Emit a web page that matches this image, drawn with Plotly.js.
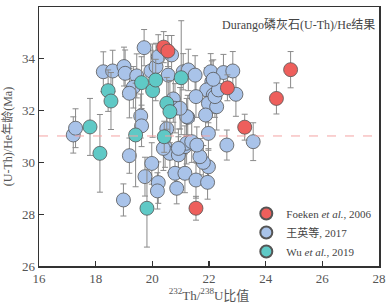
<!DOCTYPE html>
<html><head><meta charset="utf-8">
<script src="https://cdn.plot.ly/plotly-3.0.1.min.js"></script>
<style>html,body{margin:0;padding:0;background:#fff}#c{width:387px;height:304px}</style>
</head><body><div id="c"></div>
<script>
// Foeken et al., 2006
const foekenX = [20.40, 20.55, 22.65, 24.38, 24.88, 23.26, 21.54];
const foekenY = [34.45, 34.30, 32.88, 32.47, 33.58, 31.36, 28.23];
const foekenE = [0.60, 0.60, 0.50, 0.60, 0.70, 0.50, 0.46];

// 王英等, 2017
const wangX = [17.21, 17.29, 18.27, 18.60, 19.00, 19.04, 19.45, 19.33, 19.19, 19.71,
               19.95, 20.13, 20.21, 20.68, 20.56, 21.09, 21.27, 21.51, 22.06, 22.10,
               21.92, 22.15, 21.54, 21.98, 22.27, 21.88, 21.25, 20.74, 20.80, 19.59,
               19.62, 22.51, 22.84, 22.21, 22.95, 22.33, 22.15, 21.98, 19.19, 19.98,
               19.74, 20.21, 20.18, 18.98, 20.51, 20.45, 20.62, 20.92, 21.15, 21.21,
               20.98, 20.80, 21.15, 21.54, 21.95, 20.86, 21.98, 21.80, 21.68, 21.21,
               20.92, 21.39, 21.57, 20.39, 22.63, 23.56];
const wangY = [31.06, 31.32, 33.50, 33.53, 33.70, 33.44, 33.34, 32.90, 32.67, 34.43,
               33.53, 33.70, 34.08, 34.15, 33.37, 33.50, 33.57, 33.37, 33.50, 33.12,
               32.80, 32.60, 32.54, 32.28, 32.15, 31.83, 31.74, 32.45, 32.09, 31.79,
               31.41, 33.47, 33.53, 32.54, 32.63, 32.80, 33.21, 31.12, 30.26, 29.96,
               29.45, 29.22, 28.90, 28.55, 31.30, 30.61, 30.35, 30.29, 30.61, 31.77,
               32.09, 29.58, 29.58, 29.32, 29.23, 29.00, 29.83, 30.00, 30.22, 30.74,
               30.54, 30.80, 30.67, 30.54, 30.67, 30.80];
const wangE = [0.70, 0.75, 0.77, 0.80, 0.75, 0.90, 0.85, 0.80, 0.95, 0.70,
               0.80, 0.90, 0.85, 0.75, 0.90, 0.70, 0.80, 0.75, 0.70, 0.80,
               0.85, 0.70, 0.80, 0.75, 0.90, 0.80, 0.85, 0.90, 0.95, 0.85,
               0.80, 0.70, 0.75, 0.80, 0.85, 0.70, 0.75, 0.65, 0.68, 0.80,
               0.75, 0.80, 0.70, 0.62, 0.85, 0.80, 0.75, 0.70, 0.80, 0.70,
               0.80, 0.70, 0.75, 0.70, 0.65, 0.60, 0.70, 0.65, 0.70, 0.80,
               0.75, 0.80, 0.70, 0.85, 0.58, 0.73];

// Wu et al., 2019
const wuX = [17.80, 18.15, 18.44, 18.54, 19.41, 19.62, 19.81, 20.01, 20.12, 20.42, 20.51, 20.62, 21.02];
const wuY = [31.37, 30.35, 32.77, 32.37, 31.06, 33.08, 28.23, 32.77, 33.18, 30.99, 32.28, 31.96, 33.27];
const wuE = [1.10, 1.50, 0.80, 1.10, 2.00, 1.00, 1.50, 1.80, 0.80, 0.60, 1.00, 1.20, 2.20];

const refAge = 31.02;
const xTicks = [16, 18, 20, 22, 24, 26, 28];
const yTicks = [26, 28, 30, 32, 34, 36];

const serif = "Liberation Serif, Noto Sans CJK SC, serif";
const errStyle = {type: 'data', visible: true, color: '#8a8a8a', thickness: 1, width: 3};
const lineStyle = {color: '#555', width: 0.8};

function trace(x, y, e, name, color, rank) {
  return {
    type: 'scatter', mode: 'markers', x: x, y: y, name: name, legendrank: rank,
    error_y: Object.assign({array: e}, errStyle),
    marker: {size: 14, color: color, line: lineStyle, opacity: 1}
  };
}

const data = [
  trace(wangX, wangY, wangE, '王英等, 2017', '#a9c3e9', 2),
  trace(wuX, wuY, wuE, 'Wu <i>et al.</i>, 2019', '#5fc9c6', 3),
  trace(foekenX, foekenY, foekenE, 'Foeken <i>et al.</i>, 2006', '#ee5f5c', 1)
];

const axisCommon = {
  showline: true, linecolor: '#333', linewidth: 1.5, mirror: true,
  ticks: 'inside', ticklen: 5, tickwidth: 1.2, tickcolor: '#333',
  showgrid: false, zeroline: false, automargin: false,
  tickfont: {family: serif, size: 13, color: '#555'}
};

const layout = {
  width: 387, height: 304,
  margin: {l: 39, r: 8, t: 7, b: 38, autoexpand: false},
  paper_bgcolor: '#fff', plot_bgcolor: '#fff',
  showlegend: true,
  legend: {x: 0.995, y: 0.0, xanchor: 'right', yanchor: 'bottom',
           font: {family: serif, size: 11, color: '#444'},
           bgcolor: 'rgba(0,0,0,0)', itemsizing: 'constant', tracegroupgap: 0},
  xaxis: Object.assign({}, axisCommon, {
    range: [16, 28], tickvals: xTicks,
    title: {text: '<sup>232</sup>Th/<sup>238</sup>U比值', font: {family: serif, size: 13, color: '#555'}, standoff: 3}
  }),
  yaxis: Object.assign({}, axisCommon, {
    range: [26, 36], tickvals: yTicks,
    title: {text: '(U-Th)/He年龄(Ma)', font: {family: serif, size: 12, color: '#555'}, standoff: 6}
  }),
  shapes: [{type: 'line', xref: 'paper', x0: 0, x1: 1, yref: 'y', y0: refAge, y1: refAge,
            line: {color: '#f4a3a3', width: 1, dash: 'dash'}}],
  annotations: [{xref: 'paper', yref: 'paper', x: 0.995, y: 0.97, xanchor: 'right', yanchor: 'top',
                 text: 'Durango磷灰石(U-Th)/He结果', showarrow: false,
                 font: {family: serif, size: 12, color: '#444'}}]
};

Plotly.newPlot('c', data, layout, {displayModeBar: false, staticPlot: true});
</script></body></html>
